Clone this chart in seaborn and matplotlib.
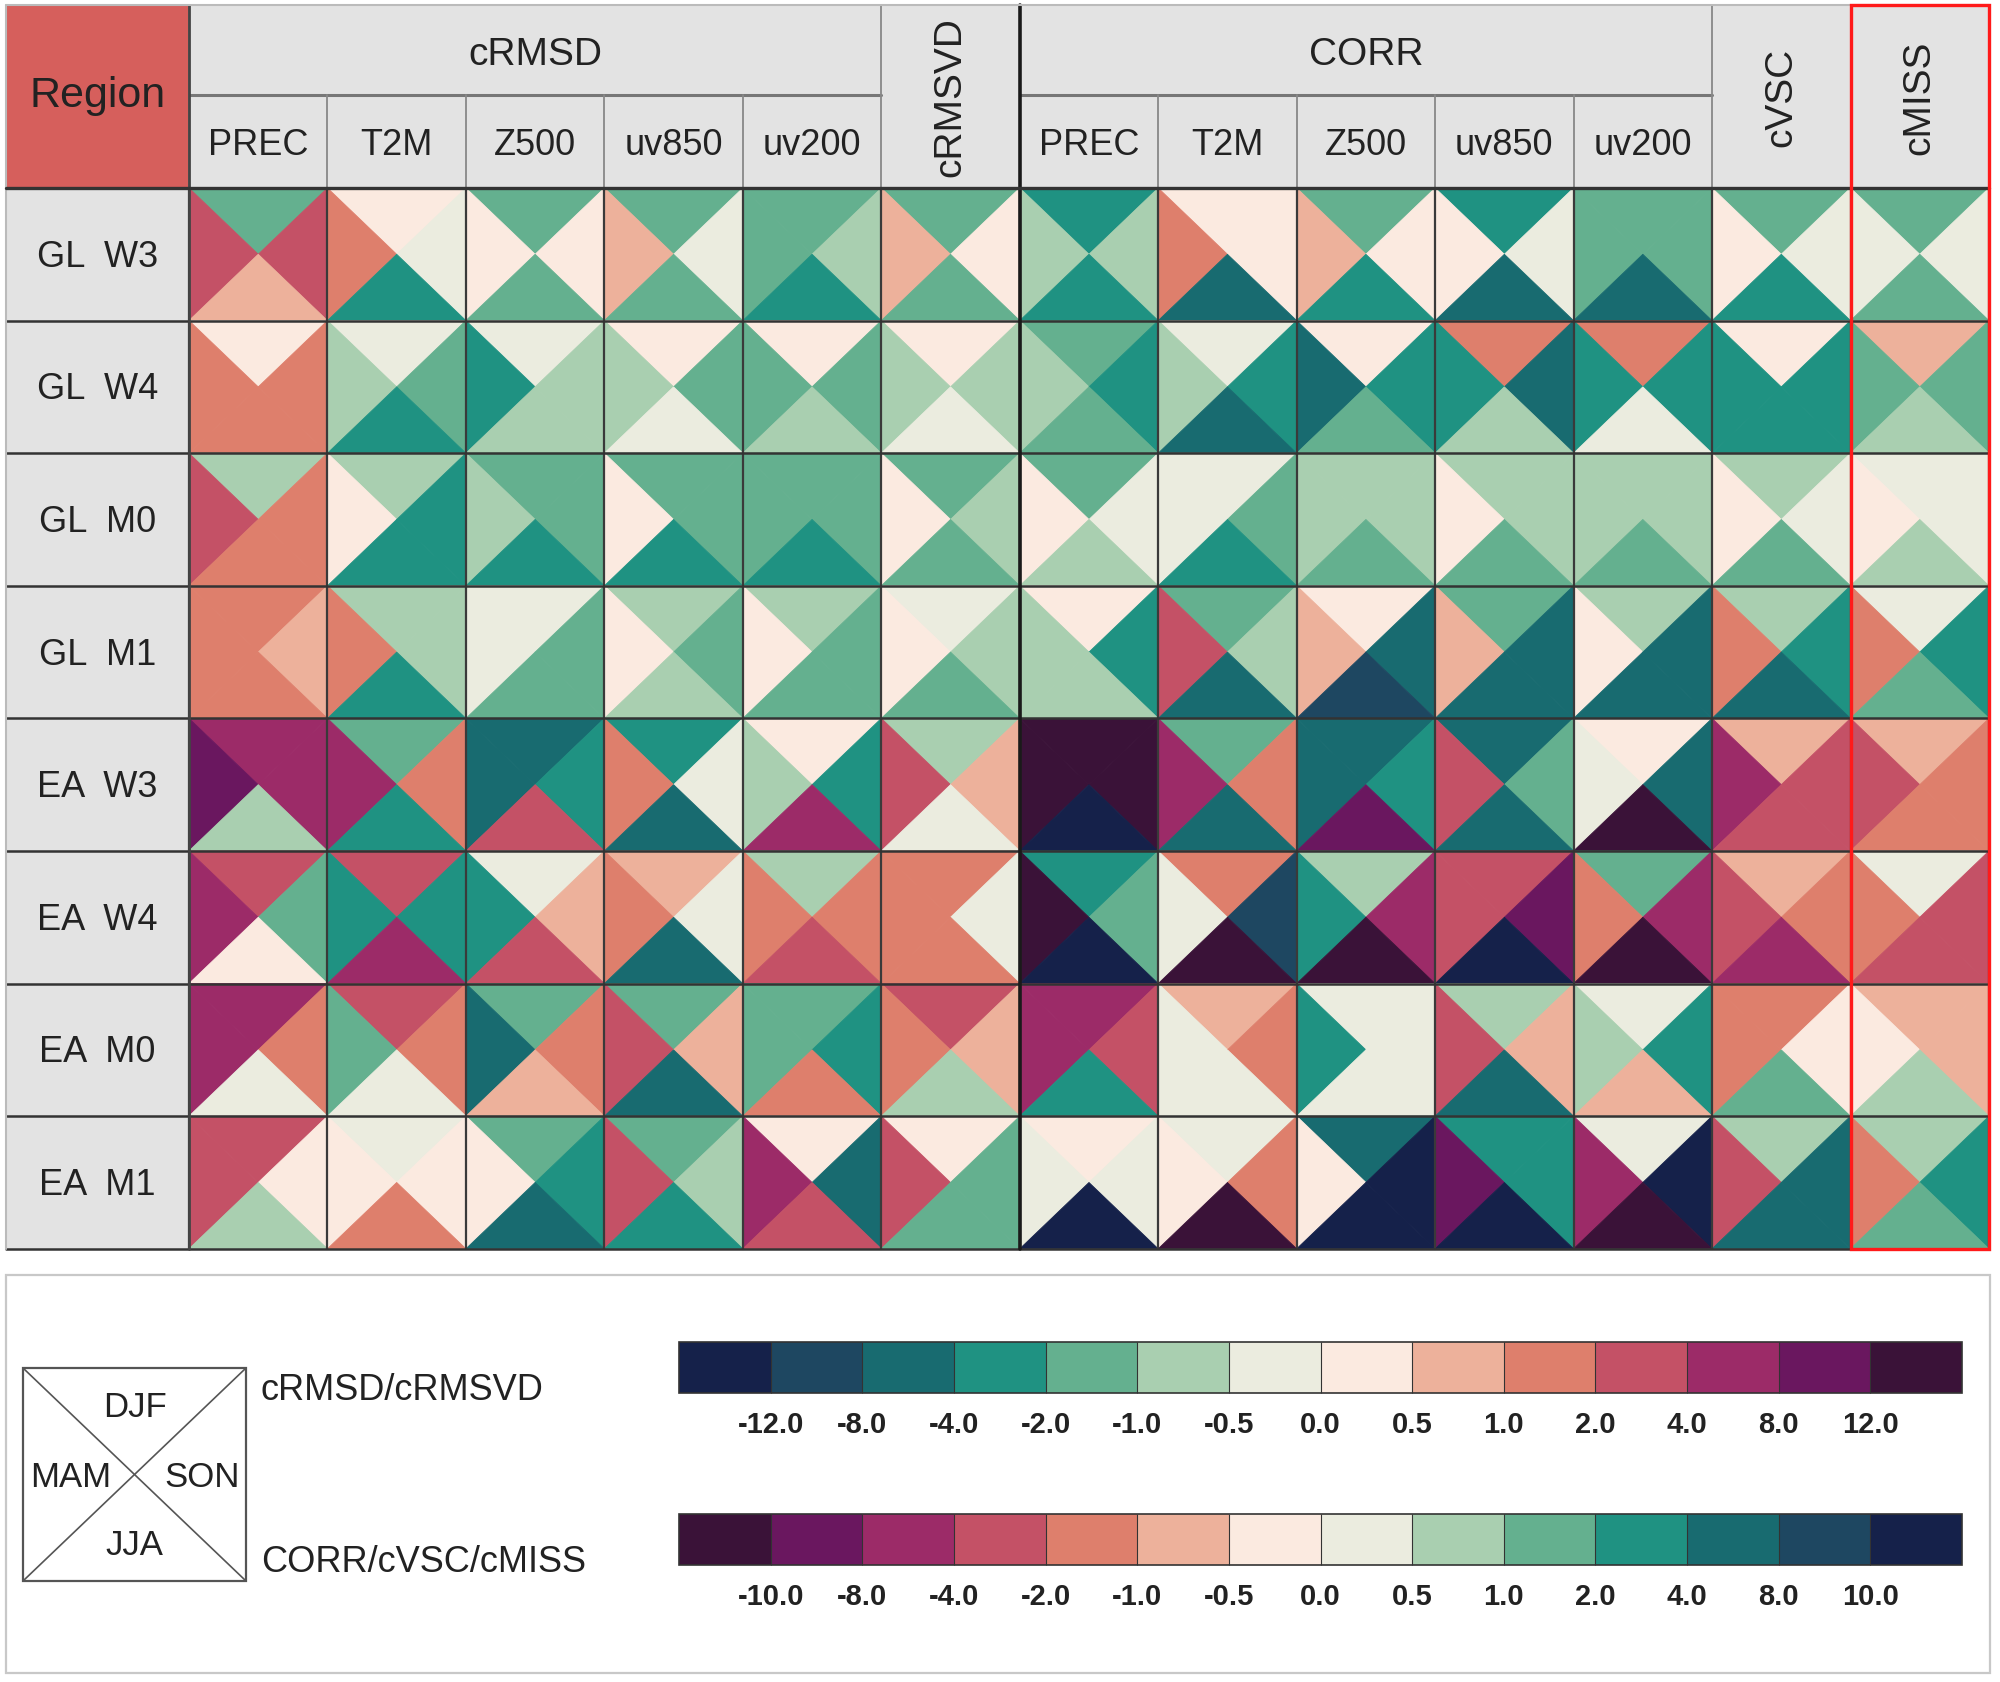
import numpy as np
import matplotlib
matplotlib.use("Agg")
import matplotlib.pyplot as plt
import matplotlib.cm as cm
from matplotlib.collections import PolyCollection
from matplotlib.colors import ListedColormap, BoundaryNorm
from matplotlib.patches import Rectangle
import seaborn as sns

# --- DATA ---
ROWS = ["GL  W3", "GL  W4", "GL  M0", "GL  M1", "EA  W3", "EA  W4", "EA  M0", "EA  M1"]
SUB_LABELS = ["PREC", "T2M", "Z500", "uv850", "uv200", "",
              "PREC", "T2M", "Z500", "uv850", "uv200", "", ""]
GROUPS = [("cRMSD", 0, 5), ("cRMSVD", 5, 6), ("CORR", 6, 11), ("cVSC", 11, 12), ("cMISS", 12, 13)]
SEASONS = ["DJF", "MAM", "SON", "JJA"]

RMSD_BOUNDS = [-16, -12, -8, -4, -2, -1, -0.5, 0, 0.5, 1, 2, 4, 8, 12, 16]
CORR_BOUNDS = [-14, -10, -8, -4, -2, -1, -0.5, 0, 0.5, 1, 2, 4, 8, 10, 14]
N_RMSD_COLS = 6  # cRMSD (5) + cRMSVD use the first scale, the rest the second

# bin index (0-13) of each triangle on its own column's colour scale
DJF = [
    [4, 7, 4, 4, 4, 4, 10, 6, 9, 10, 9, 9, 9],
    [7, 6, 6, 7, 7, 7, 9, 7, 6, 4, 4, 6, 5],
    [5, 5, 4, 4, 4, 4, 9, 7, 8, 8, 8, 8, 7],
    [9, 5, 6, 5, 5, 6, 6, 9, 6, 9, 8, 8, 7],
    [11, 4, 2, 3, 7, 5, 0, 9, 11, 11, 6, 5, 5],
    [10, 10, 6, 8, 5, 9, 10, 4, 8, 3, 9, 5, 7],
    [11, 10, 4, 4, 4, 10, 2, 5, 7, 8, 7, 4, 5],
    [10, 6, 4, 4, 7, 7, 6, 7, 11, 10, 7, 8, 8],
]
MAM = [
    [10, 9, 7, 8, 4, 8, 8, 4, 5, 6, 9, 6, 7],
    [9, 5, 3, 5, 4, 5, 8, 8, 11, 10, 10, 10, 9],
    [10, 7, 5, 7, 4, 7, 6, 7, 8, 6, 8, 6, 6],
    [9, 9, 6, 7, 7, 7, 8, 3, 5, 5, 6, 4, 4],
    [12, 11, 2, 9, 5, 10, 0, 2, 11, 3, 7, 2, 3],
    [11, 3, 3, 9, 9, 9, 0, 7, 10, 3, 4, 3, 4],
    [11, 4, 2, 10, 4, 9, 2, 7, 10, 3, 8, 4, 6],
    [10, 7, 7, 10, 11, 10, 7, 6, 6, 1, 2, 3, 4],
]
SON = [
    [10, 6, 7, 6, 5, 7, 8, 6, 6, 7, 9, 7, 7],
    [9, 4, 5, 4, 4, 5, 10, 10, 10, 11, 10, 10, 9],
    [9, 3, 4, 4, 4, 5, 7, 9, 8, 8, 8, 7, 7],
    [8, 5, 4, 4, 4, 5, 10, 8, 11, 11, 11, 10, 10],
    [11, 9, 3, 6, 3, 8, 0, 4, 10, 9, 11, 3, 4],
    [4, 3, 8, 6, 9, 6, 9, 12, 2, 1, 2, 4, 3],
    [9, 9, 9, 8, 3, 8, 3, 4, 7, 5, 10, 6, 5],
    [7, 7, 3, 5, 2, 4, 7, 4, 13, 10, 13, 11, 10],
]
JJA = [
    [8, 3, 4, 4, 3, 4, 10, 11, 10, 11, 11, 10, 9],
    [9, 3, 5, 6, 5, 6, 9, 11, 9, 8, 7, 10, 8],
    [9, 3, 3, 3, 3, 4, 8, 10, 9, 9, 9, 9, 8],
    [9, 3, 4, 5, 4, 4, 8, 11, 12, 11, 11, 11, 9],
    [5, 3, 10, 2, 11, 6, 13, 11, 1, 11, 0, 3, 4],
    [7, 11, 10, 2, 10, 9, 13, 0, 0, 13, 0, 2, 3],
    [6, 6, 8, 2, 9, 5, 10, 7, 7, 11, 5, 9, 8],
    [5, 9, 2, 3, 10, 4, 13, 0, 13, 13, 0, 11, 9],
]

COLORS = ["#15214a", "#1e4761", "#186b70", "#1f9282", "#64b08f", "#a9cfb0", "#ebecdf",
          "#fbeae0", "#edb19b", "#de7f6c", "#c45166", "#9c2b68", "#6a175f", "#3a1238"]

# --- STYLE ---
sns.set_theme(style="white")
plt.rcParams['font.family'] = ['Liberation Sans', 'DejaVu Sans']

pal = sns.color_palette(COLORS)
cmap_rmsd = ListedColormap(pal)
cmap_corr = ListedColormap(pal[::-1])
norm_rmsd = BoundaryNorm(RMSD_BOUNDS, 14)
norm_corr = BoundaryNorm(CORR_BOUNDS, 14)

# layout in pixels
X_LEFT, X0, CW = 6, 189, 138.46
Y_TOP, Y_MID, Y0, RH = 6, 96, 189, 132.6
n_rows, n_cols = len(ROWS), len(SUB_LABELS)
X_END = X0 + n_cols * CW
Y_END = Y0 + n_rows * RH

fig = plt.figure(figsize=(20, 16.83), dpi=100)
ax = fig.add_axes([0, 0, 1, 1])
ax.set_xlim(0, 2000)
ax.set_ylim(1683, 0)
ax.axis('off')


def bin_values(levels, bounds):
    b = np.asarray(bounds, dtype=float)
    mids = (b[:-1] + b[1:]) / 2
    return mids[np.asarray(levels)]


# --- triangles ---
polys = {True: [], False: []}
vals = {True: [], False: []}
seasons = [DJF, MAM, SON, JJA]
for r in range(n_rows):
    for c in range(n_cols):
        x0, x1 = X0 + c * CW, X0 + (c + 1) * CW
        y0, y1 = Y0 + r * RH, Y0 + (r + 1) * RH
        xc, yc = (x0 + x1) / 2, (y0 + y1) / 2
        tris = [
            [(x0, y0), (x1, y0), (xc, yc)],  # DJF top
            [(x0, y0), (x0, y1), (xc, yc)],  # MAM left
            [(x1, y0), (x1, y1), (xc, yc)],  # SON right
            [(x0, y1), (x1, y1), (xc, yc)],  # JJA bottom
        ]
        is_rmsd = c < N_RMSD_COLS
        bounds = RMSD_BOUNDS if is_rmsd else CORR_BOUNDS
        for tri, grid in zip(tris, seasons):
            polys[is_rmsd].append(tri)
            vals[is_rmsd].append(bin_values([grid[r][c]], bounds)[0])

for is_rmsd, cmap, norm in [(True, cmap_rmsd, norm_rmsd), (False, cmap_corr, norm_corr)]:
    pc = PolyCollection(polys[is_rmsd], array=np.array(vals[is_rmsd]), cmap=cmap, norm=norm,
                        edgecolors='face', linewidths=0.6)
    ax.add_collection(pc)

# --- header backgrounds ---
HEAD = "#e3e3e3"
ax.add_patch(Rectangle((X_LEFT, Y_TOP), X0 - X_LEFT, Y0 - Y_TOP, facecolor="#d65f5c", edgecolor='none'))
ax.add_patch(Rectangle((X0, Y_TOP), X_END - X0, Y0 - Y_TOP, facecolor=HEAD, edgecolor='none'))
ax.add_patch(Rectangle((X_LEFT, Y0), X0 - X_LEFT, Y_END - Y0, facecolor=HEAD, edgecolor='none'))

ax.text((X_LEFT + X0) / 2, 96, "Region", ha='center', va='center', fontsize=31, color='#222222')

for name, c0, c1 in GROUPS:
    xa, xb = X0 + c0 * CW, X0 + c1 * CW
    if c1 - c0 > 1:
        ax.text((xa + xb) / 2, (Y_TOP + Y_MID) / 2 + 4, name, ha='center', va='center',
                fontsize=28, color='#222222')
        ax.plot([xa, xb], [Y_MID, Y_MID], color='#777777', lw=2.2)
    else:
        ax.text((xa + xb) / 2, (Y_TOP + Y0) / 2, name, ha='center', va='center',
                fontsize=28, color='#222222', rotation=90)

for c, lab in enumerate(SUB_LABELS):
    if lab:
        ax.text(X0 + (c + 0.5) * CW, (Y_MID + Y0) / 2 + 3, lab, ha='center', va='center',
                fontsize=26, color='#222222')

for r, lab in enumerate(ROWS):
    ax.text((X_LEFT + X0) / 2, Y0 + (r + 0.5) * RH + 2, lab, ha='center', va='center',
            fontsize=26, color='#222222')

# --- grid lines ---
for c in range(n_cols + 1):
    x = X0 + c * CW
    group_edge = c in (0, 5, 6, 11, 12, 13)
    ytop = Y_TOP if group_edge else Y_MID
    ax.plot([x, x], [ytop, Y0], color='#888888', lw=1.3)
    ax.plot([x, x], [Y0, Y_END], color='#3a3a3a', lw=1.6)
for r in range(n_rows + 1):
    y = Y0 + r * RH
    ax.plot([X_LEFT, X_END], [y, y], color='#333333', lw=1.8)
ax.plot([X0, X0], [Y_TOP, Y_END], color='#444444', lw=2.0)
ax.plot([X0 + 6 * CW] * 2, [Y_TOP, Y_END], color='#1a1a1a', lw=2.6)
ax.plot([X_LEFT, X_END], [Y_TOP, Y_TOP], color='#bbbbbb', lw=1.5)
ax.plot([X_LEFT, X_LEFT], [Y_TOP, Y_END], color='#bbbbbb', lw=1.5)
ax.plot([X_LEFT, X_END], [Y0, Y0], color='#333333', lw=2.4)
ax.add_patch(Rectangle((X0 + 12 * CW, Y_TOP), CW, Y_END - Y_TOP, facecolor='none',
                       edgecolor='#ff1a1a', lw=2.4, zorder=5))

# --- legend panel ---
ax.add_patch(Rectangle((6, 1276), 1984, 398, facecolor='white', edgecolor='#c8c8c8', lw=1.6))
sx0, sx1, sy0, sy1 = 23, 246, 1369, 1582
ax.add_patch(Rectangle((sx0, sy0), sx1 - sx0, sy1 - sy0, facecolor='none', edgecolor='#555555', lw=1.6))
ax.plot([sx0, sx1], [sy0, sy1], color='#555555', lw=1.2)
ax.plot([sx0, sx1], [sy1, sy0], color='#555555', lw=1.2)
scx, scy = (sx0 + sx1) / 2, (sy0 + sy1) / 2
for lab, (dx, dy) in zip(SEASONS, [(0, -68), (-64, 2), (68, 2), (0, 70)]):
    ax.text(scx + dx, scy + dy, lab, ha='center', va='center', fontsize=25, color='#222222')
ax.text(261, 1391, "cRMSD/cRMSVD", ha='left', va='center', fontsize=26, color='#222222')
ax.text(261, 1563, "CORR/cVSC/cMISS", ha='left', va='center', fontsize=26, color='#222222')

# --- colour bars ---
for bottom, cmap, norm, bounds in [(0.1717, cmap_rmsd, norm_rmsd, RMSD_BOUNDS),
                                   (0.0695, cmap_corr, norm_corr, CORR_BOUNDS)]:
    cax = fig.add_axes([0.3395, bottom, 0.6415, 0.0303])
    sm = cm.ScalarMappable(norm=norm, cmap=cmap)
    cb = fig.colorbar(sm, cax=cax, orientation='horizontal', spacing='uniform',
                      ticks=bounds[1:-1], drawedges=True)
    cb.set_ticklabels([f"{b:.1f}" for b in bounds[1:-1]])
    cb.ax.minorticks_off()
    cb.ax.tick_params(which='both', length=0, pad=12, labelsize=21)
    for t in cb.ax.get_xticklabels():
        t.set_fontweight('bold')
        t.set_color('#222222')
    cb.outline.set_edgecolor('#333333')
    cb.outline.set_linewidth(1.2)
    cb.dividers.set_color('#333333')
    cb.dividers.set_linewidth(0.8)

fig.savefig("out.png", dpi=100, facecolor='white')
